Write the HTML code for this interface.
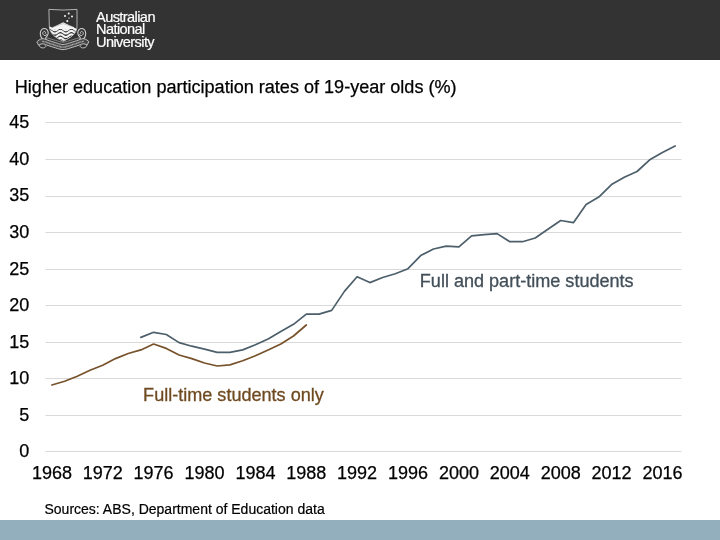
<!DOCTYPE html>
<html><head><meta charset="utf-8"><title>Higher education participation</title>
<style>
html,body{margin:0;padding:0;}
body{width:720px;height:540px;overflow:hidden;background:#fff;position:relative;font-family:"Liberation Sans",sans-serif;}
.hdr{position:absolute;left:0;top:0;width:720px;height:60px;background:#333;}
.ftr{position:absolute;left:0;top:520px;width:720px;height:20px;background:#93aebd;}
.anu{position:absolute;left:96px;top:10.6px;color:#fff;font-size:14.6px;line-height:12.6px;letter-spacing:-0.6px;white-space:nowrap;-webkit-text-stroke:0.2px #fff;}
.title{position:absolute;left:14.8px;top:77.3px;font-size:18.07px;color:#000;-webkit-text-stroke:0.25px #000;white-space:nowrap;}
.src{position:absolute;left:44.5px;top:501px;font-size:14px;color:#000;-webkit-text-stroke:0.2px #000;white-space:nowrap;}
svg{position:absolute;left:0;top:0;}
.g line{stroke:#d9d9d9;stroke-width:1;}
.lab text{font-size:18px;fill:#000;stroke:#000;stroke-width:0.25px;font-family:"Liberation Sans",sans-serif;}
</style></head><body>
<div class="hdr"></div>
<div class="anu">Australian<br>National<br>University</div>
<div class="title">Higher education participation rates of 19-year olds (%)</div>
<svg width="720" height="540" viewBox="0 0 720 540">
<g class="g"><line x1="45.5" x2="681.5" y1="451.5" y2="451.5"/><line x1="45.5" x2="681.5" y1="415.5" y2="415.5"/><line x1="45.5" x2="681.5" y1="378.5" y2="378.5"/><line x1="45.5" x2="681.5" y1="342.5" y2="342.5"/><line x1="45.5" x2="681.5" y1="305.5" y2="305.5"/><line x1="45.5" x2="681.5" y1="269.5" y2="269.5"/><line x1="45.5" x2="681.5" y1="232.5" y2="232.5"/><line x1="45.5" x2="681.5" y1="196.5" y2="196.5"/><line x1="45.5" x2="681.5" y1="159.5" y2="159.5"/><line x1="45.5" x2="681.5" y1="122.5" y2="122.5"/></g>
<g class="lab"><text x="29.3" text-anchor="end" y="457.3">0</text><text x="29.3" text-anchor="end" y="420.7">5</text><text x="29.3" text-anchor="end" y="384.2">10</text><text x="29.3" text-anchor="end" y="347.6">15</text><text x="29.3" text-anchor="end" y="311.1">20</text><text x="29.3" text-anchor="end" y="274.5">25</text><text x="29.3" text-anchor="end" y="238.0">30</text><text x="29.3" text-anchor="end" y="201.4">35</text><text x="29.3" text-anchor="end" y="164.9">40</text><text x="29.3" text-anchor="end" y="128.3">45</text><text x="51.9" y="478.8" text-anchor="middle">1968</text><text x="102.7" y="478.8" text-anchor="middle">1972</text><text x="153.6" y="478.8" text-anchor="middle">1976</text><text x="204.5" y="478.8" text-anchor="middle">1980</text><text x="255.4" y="478.8" text-anchor="middle">1984</text><text x="306.3" y="478.8" text-anchor="middle">1988</text><text x="357.1" y="478.8" text-anchor="middle">1992</text><text x="408.0" y="478.8" text-anchor="middle">1996</text><text x="458.9" y="478.8" text-anchor="middle">2000</text><text x="509.8" y="478.8" text-anchor="middle">2004</text><text x="560.7" y="478.8" text-anchor="middle">2008</text><text x="611.5" y="478.8" text-anchor="middle">2012</text><text x="662.4" y="478.8" text-anchor="middle">2016</text></g>
<polyline fill="none" stroke="#77522b" stroke-width="1.7" stroke-linejoin="round" stroke-linecap="round" points="51.9,385.0 64.6,381.3 77.3,376.2 90.0,370.3 102.7,365.2 115.5,358.6 128.2,353.5 140.9,349.9 153.6,344.0 166.3,348.4 179.1,355.0 191.8,358.6 204.5,363.0 217.2,366.0 229.9,364.9 242.7,360.8 255.4,355.7 268.1,349.9 280.8,344.0 293.5,336.0 306.3,325.0"/>
<polyline fill="none" stroke="#4d5f6b" stroke-width="1.7" stroke-linejoin="round" stroke-linecap="round" points="140.9,337.4 153.6,332.3 166.3,334.5 179.1,342.6 191.8,346.2 204.5,349.1 217.2,352.4 229.9,352.4 242.7,349.9 255.4,344.8 268.1,338.9 280.8,331.6 293.5,324.3 306.3,314.1 319.0,314.1 331.7,310.4 344.4,291.4 357.1,276.8 369.9,282.6 382.6,277.5 395.3,273.8 408.0,268.7 420.7,255.6 433.5,249.0 446.2,246.1 458.9,246.8 471.6,235.8 484.3,234.7 497.1,233.6 509.8,241.7 522.5,241.7 535.2,238.0 547.9,229.2 560.7,220.5 573.4,222.7 586.1,204.4 598.8,197.1 611.5,184.6 624.3,177.3 637.0,171.5 649.7,159.8 662.4,152.5 675.1,145.9"/>
<text x="143.1" y="401" font-size="18.07" fill="#6f4a20" stroke="#6f4a20" stroke-width="0.3" font-family="Liberation Sans, sans-serif">Full-time students only</text>
<text x="419.8" y="286.5" font-size="18.07" fill="#424f59" stroke="#424f59" stroke-width="0.3" font-family="Liberation Sans, sans-serif">Full and part-time students</text>
<g id="crest" fill="none" stroke="#cfcfcf" stroke-width="0.9" stroke-linecap="round" stroke-linejoin="round">
<defs><clipPath id="sh"><path d="M49.3,9.4 Q63.2,10.7 77,9.4 L77,26.5 C77,33.5 70.5,38 63.2,41.2 C55.8,38 49.3,33.5 49.3,26.5 Z"/></clipPath></defs>
<path d="M42.40,38.60 C42.17,38.30 41.35,37.63 41.00,36.80 C40.65,35.97 40.27,34.70 40.30,33.60 C40.33,32.50 40.58,31.05 41.20,30.20 C41.82,29.35 43.05,28.60 44.00,28.50 C44.95,28.40 46.20,28.92 46.90,29.60 C47.60,30.28 48.12,31.60 48.20,32.60 C48.28,33.60 47.80,34.77 47.40,35.60 C47.00,36.43 46.00,36.93 45.80,37.60 C45.60,38.27 46.13,39.27 46.20,39.60" stroke-width="1.1"/><path d="M46.80,34.60 C46.47,34.77 45.43,35.63 44.80,35.60 C44.17,35.57 43.32,34.93 43.00,34.40 C42.68,33.87 42.67,32.90 42.90,32.40 C43.13,31.90 43.95,31.42 44.40,31.40 C44.85,31.38 45.47,31.97 45.60,32.30 C45.73,32.63 45.27,33.22 45.20,33.40" stroke-width="1.0"/><path d="M83.60,38.60 C83.83,38.30 84.65,37.63 85.00,36.80 C85.35,35.97 85.73,34.70 85.70,33.60 C85.67,32.50 85.42,31.05 84.80,30.20 C84.18,29.35 82.95,28.60 82.00,28.50 C81.05,28.40 79.80,28.92 79.10,29.60 C78.40,30.28 77.88,31.60 77.80,32.60 C77.72,33.60 78.20,34.77 78.60,35.60 C79.00,36.43 80.00,36.93 80.20,37.60 C80.40,38.27 79.87,39.27 79.80,39.60" stroke-width="1.1"/><path d="M79.20,34.60 C79.53,34.77 80.57,35.63 81.20,35.60 C81.83,35.57 82.68,34.93 83.00,34.40 C83.32,33.87 83.33,32.90 83.10,32.40 C82.87,31.90 82.05,31.42 81.60,31.40 C81.15,31.38 80.53,31.97 80.40,32.30 C80.27,32.63 80.73,33.22 80.80,33.40" stroke-width="1.0"/>
<path d="M39.00,45.00 C39.25,45.38 39.75,46.82 40.50,47.30 C41.25,47.78 42.62,48.02 43.50,47.90 C44.38,47.78 45.58,47.05 45.80,46.60 C46.02,46.15 44.97,45.43 44.80,45.20" fill="#2e2e2e"/><path d="M87.00,45.00 C86.75,45.38 86.25,46.82 85.50,47.30 C84.75,47.78 83.38,48.02 82.50,47.90 C81.62,47.78 80.42,47.05 80.20,46.60 C79.98,46.15 81.03,45.43 81.20,45.20" fill="#2e2e2e"/>
<path d="M47.30,37.90 C48.68,38.32 53.57,39.78 55.60,40.40 C57.63,41.02 58.27,41.30 59.50,41.60 C60.73,41.90 61.83,42.20 63.00,42.20 C64.17,42.20 65.27,41.90 66.50,41.60 C67.73,41.30 68.37,41.02 70.40,40.40 C72.43,39.78 77.32,38.32 78.70,37.90" stroke="#9c9c9c" stroke-width="0.8"/>
<path d="M37.10,41.70 C37.45,41.40 38.35,40.40 39.20,39.90 C40.05,39.40 41.20,38.82 42.20,38.70 C43.20,38.58 44.23,38.94 45.20,39.20 C46.17,39.46 46.27,39.67 48.00,40.25 C49.73,40.83 53.68,42.09 55.60,42.70 C57.52,43.31 58.27,43.60 59.50,43.90 C60.73,44.20 61.83,44.50 63.00,44.50 C64.17,44.50 65.27,44.20 66.50,43.90 C67.73,43.60 68.48,43.31 70.40,42.70 C72.32,42.09 76.27,40.83 78.00,40.25 C79.73,39.67 79.83,39.46 80.80,39.20 C81.77,38.94 82.80,38.58 83.80,38.70 C84.80,38.82 85.95,39.40 86.80,39.90 C87.65,40.40 88.55,41.40 88.90,41.70 L87,45 C86.67,44.85 85.77,44.28 85.00,44.10 C84.23,43.92 83.57,43.67 82.40,43.90 C81.23,44.13 80.00,44.83 78.00,45.50 C76.00,46.17 72.32,47.30 70.40,47.90 C68.48,48.50 67.73,48.82 66.50,49.10 C65.27,49.38 64.17,49.60 63.00,49.60 C61.83,49.60 60.73,49.38 59.50,49.10 C58.27,48.82 57.52,48.50 55.60,47.90 C53.68,47.30 50.00,46.17 48.00,45.50 C46.00,44.83 44.77,44.13 43.60,43.90 C42.43,43.67 41.77,43.92 41.00,44.10 C40.23,44.28 39.33,44.85 39.00,45.00 Z" fill="#474747" stroke-width="0.9"/>
<path d="M42.20,41.35 C42.70,41.43 44.23,41.59 45.20,41.85 C46.17,42.11 46.27,42.32 48.00,42.90 C49.73,43.48 53.68,44.74 55.60,45.35 C57.52,45.96 58.27,46.25 59.50,46.55 C60.73,46.85 61.83,47.15 63.00,47.15 C64.17,47.15 65.27,46.85 66.50,46.55 C67.73,46.25 68.48,45.96 70.40,45.35 C72.32,44.74 76.27,43.48 78.00,42.90 C79.73,42.32 79.83,42.11 80.80,41.85 C81.77,41.59 83.30,41.43 83.80,41.35" stroke="#b5b5b5" stroke-width="1.5" stroke-dasharray="0.8 0.45" stroke-linecap="butt"/>
<g clip-path="url(#sh)">
<path d="M49.5,28.9 L63.2,22.2 L76.8,28.9 Z" fill="#f4f4f4" stroke="none"/>
<path d="M53,27 L63.2,23.6 L73.4,27" stroke="#a0a0a0" stroke-width="0.5"/>
<g stroke="#f4f4f4" stroke-width="2.0"><path d="M46.6,28.9 q2.75,-2.6 5.5,0 t5.5,0 t5.5,0 t5.5,0 t5.5,0 t5.5,0 t5.5,0 t5.5,0"/><path d="M46.6,32.2 q2.75,-2.6 5.5,0 t5.5,0 t5.5,0 t5.5,0 t5.5,0 t5.5,0 t5.5,0 t5.5,0"/><path d="M46.6,35.7 q2.75,-2.6 5.5,0 t5.5,0 t5.5,0 t5.5,0 t5.5,0 t5.5,0 t5.5,0 t5.5,0"/><path d="M46.6,39.2 q2.75,-2.6 5.5,0 t5.5,0 t5.5,0 t5.5,0 t5.5,0 t5.5,0 t5.5,0 t5.5,0"/></g>
</g>
<path d="M49.3,9.4 Q63.2,10.7 77,9.4 L77,26.5 C77,33.5 70.5,38 63.2,41.2 C55.8,38 49.3,33.5 49.3,26.5 Z" stroke-width="0.85" stroke="#c8c8c8"/>
<g fill="#f4f4f4" stroke="none">
<circle cx="68.7" cy="13.5" r="1"/><circle cx="65" cy="15.9" r="1"/><circle cx="72" cy="16.5" r="1"/><circle cx="69" cy="18.1" r="0.65"/><circle cx="67.3" cy="21.1" r="1.05"/>
</g>
</g>
</svg>
<div class="src">Sources: ABS, Department of Education data</div>
<div class="ftr"></div>
</body></html>
